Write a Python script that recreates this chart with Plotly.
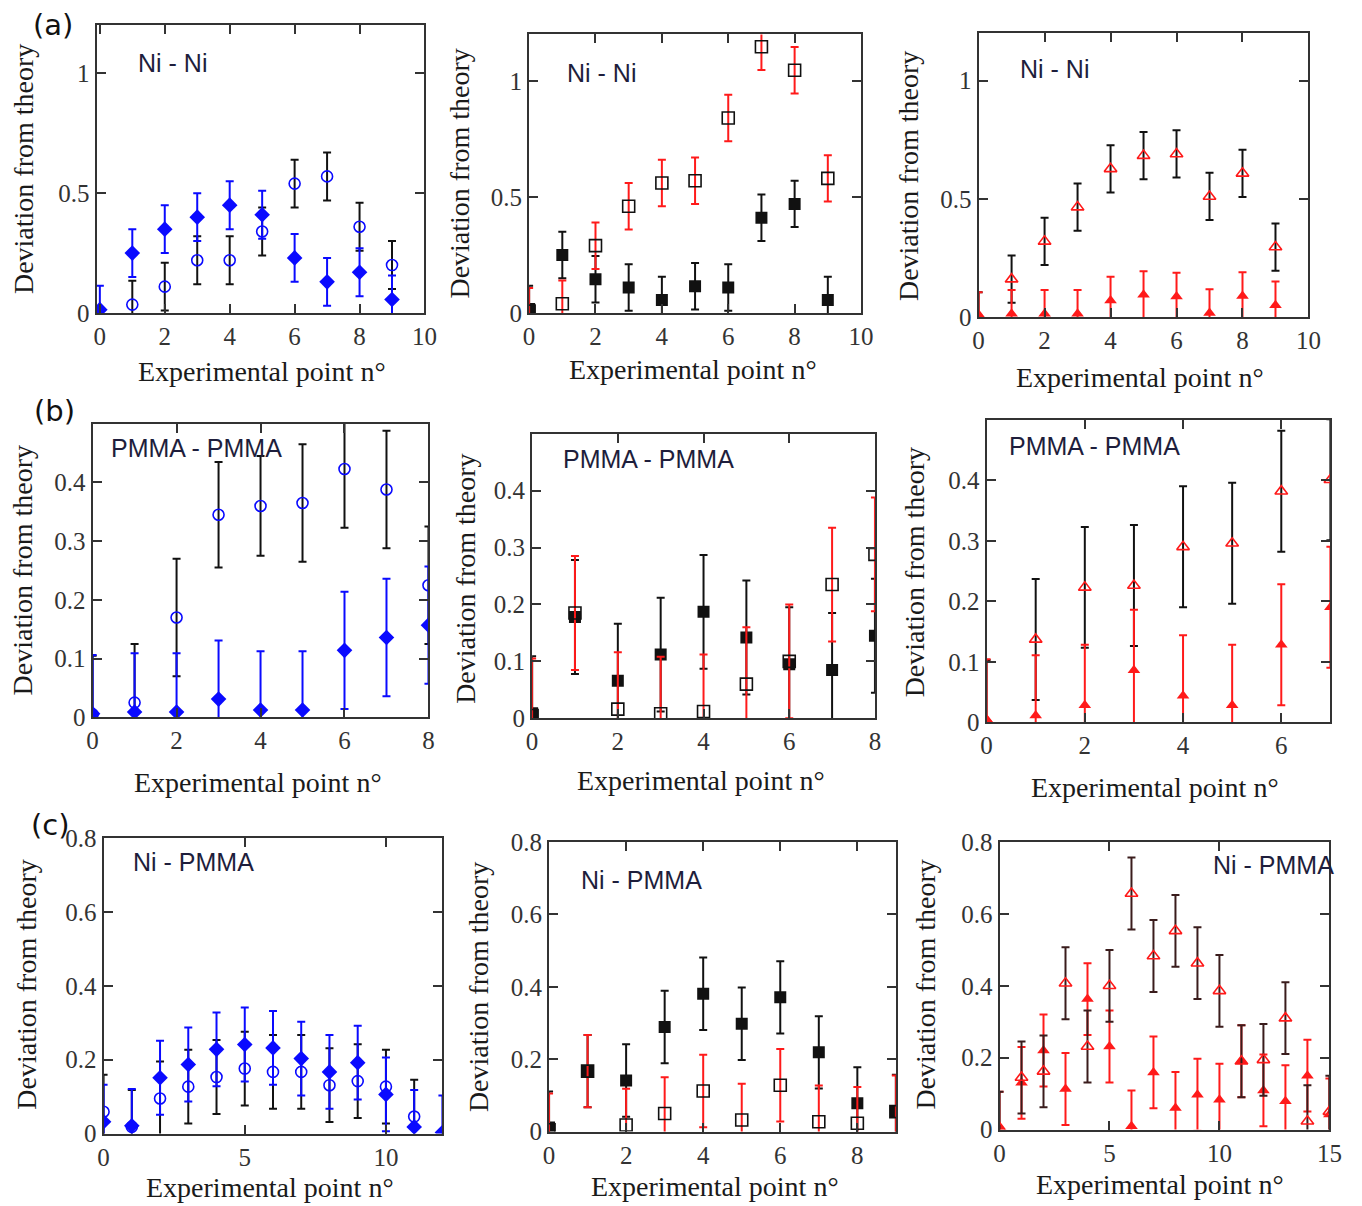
import plotly.graph_objects as go

W, H = 1362, 1206
BLUE = "#0a0aff"
RED = "#ff1a1a"
BLACK = "#111111"
DARK = "#3a1c1c"

# ---------------- data ----------------
# Row (a) Ni - Ni
A1_FILLED_X = [0, 1, 2, 3, 4, 5, 6, 7, 8, 9]
A1_FILLED_Y = [0.014, 0.25, 0.35, 0.40, 0.45, 0.41, 0.23, 0.13, 0.17, 0.056]
A1_FILLED_E = [0.1, 0.1, 0.1, 0.1, 0.1, 0.1, 0.1, 0.1, 0.1, 0.1]
A1_OPEN_X = [1, 2, 3, 4, 5, 6, 7, 8, 9]
A1_OPEN_Y = [0.035, 0.11, 0.22, 0.22, 0.34, 0.54, 0.57, 0.36, 0.20]
A1_OPEN_E = [0.1, 0.1, 0.1, 0.1, 0.1, 0.1, 0.1, 0.1, 0.1]

A2_FILLED_X = [0, 1, 2, 3, 4, 5, 6, 7, 8, 9]
A2_FILLED_Y = [0.017, 0.25, 0.145, 0.11, 0.056, 0.115, 0.11, 0.41, 0.47, 0.056]
A2_FILLED_E = [0.1, 0.1, 0.1, 0.1, 0.1, 0.1, 0.1, 0.1, 0.1, 0.1]
A2_OPEN_X = [0, 1, 2, 3, 4, 5, 6, 7, 8, 9]
A2_OPEN_Y = [0.008, 0.04, 0.29, 0.46, 0.56, 0.57, 0.84, 1.147, 1.046, 0.58]
A2_OPEN_E = [0.1, 0.1, 0.1, 0.1, 0.1, 0.1, 0.1, 0.1, 0.1, 0.1]

A3_FILLED_X = [0, 1, 2, 3, 4, 5, 6, 7, 8, 9]
A3_FILLED_Y = [0.005, 0.014, 0.014, 0.014, 0.07, 0.094, 0.087, 0.017, 0.089, 0.05]
A3_FILLED_E = [0.1, 0.1, 0.1, 0.1, 0.1, 0.1, 0.1, 0.1, 0.1, 0.1]
A3_OPEN_X = [0, 1, 2, 3, 4, 5, 6, 7, 8, 9]
A3_OPEN_Y = [0.005, 0.16, 0.32, 0.465, 0.627, 0.683, 0.69, 0.51, 0.608, 0.296]
A3_OPEN_E = [0.1, 0.1, 0.1, 0.1, 0.1, 0.1, 0.1, 0.1, 0.1, 0.1]

# Row (b) PMMA - PMMA
B1_FILLED_X = [0, 1, 2, 3, 4, 5, 6, 7, 8]
B1_FILLED_Y = [0.006, 0.009, 0.009, 0.031, 0.0125, 0.0125, 0.114, 0.136, 0.157]
B1_FILLED_E = [0.1, 0.1, 0.1, 0.1, 0.1, 0.1, 0.1, 0.1, 0.1]
B1_OPEN_X = [0, 1, 2, 3, 4, 5, 6, 7, 8]
B1_OPEN_Y = [0.005, 0.025, 0.17, 0.345, 0.36, 0.365, 0.423, 0.388, 0.225]
B1_OPEN_E = [0.1, 0.1, 0.1, 0.09, 0.085, 0.1, 0.1, 0.1, 0.1]

B2_FILLED_X = [0, 1, 2, 3, 4, 5, 6, 7, 8]
B2_FILLED_Y = [0.009, 0.178, 0.066, 0.112, 0.187, 0.142, 0.095, 0.085, 0.145]
B2_FILLED_E = [0.1, 0.1, 0.1, 0.1, 0.1, 0.1, 0.1, 0.1, 0.1]
B2_OPEN_X = [0, 1, 2, 3, 4, 5, 6, 7, 8]
B2_OPEN_Y = [0.005, 0.185, 0.016, 0.008, 0.012, 0.06, 0.1, 0.235, 0.288]
B2_OPEN_E = [0.1, 0.1, 0.1, 0.1, 0.1, 0.1, 0.1, 0.1, 0.1]

B3_FILLED_X = [0, 1, 2, 3, 4, 5, 6, 7]
B3_FILLED_Y = [0.004, 0.011, 0.028, 0.086, 0.044, 0.028, 0.128, 0.19]
B3_FILLED_E = [0.1, 0.1, 0.1, 0.1, 0.1, 0.1, 0.1, 0.1]
B3_OPEN_X = [0, 1, 2, 3, 4, 5, 6, 7]
B3_OPEN_Y = [0.003, 0.137, 0.223, 0.226, 0.29, 0.296, 0.382, 0.401]
B3_OPEN_E = [0.1, 0.1, 0.1, 0.1, 0.1, 0.1, 0.1, 0.1]

# Row (c) Ni - PMMA
C1_FILLED_X = [0, 1, 2, 3, 4, 5, 6, 7, 8, 9, 10, 11, 12]
C1_FILLED_Y = [0.032, 0.021, 0.151, 0.187, 0.228, 0.241, 0.232, 0.203, 0.167, 0.192, 0.106, 0.018, 0.003]
C1_FILLED_E = [0.1, 0.1, 0.1, 0.1, 0.1, 0.1, 0.1, 0.1, 0.1, 0.1, 0.1, 0.1, 0.1]
C1_OPEN_X = [0, 1, 2, 3, 4, 5, 6, 7, 8, 9, 10, 11]
C1_OPEN_Y = [0.059, 0.018, 0.095, 0.127, 0.153, 0.176, 0.167, 0.167, 0.131, 0.142, 0.127, 0.046]
C1_OPEN_E = [0.1, 0.1, 0.1, 0.1, 0.1, 0.1, 0.1, 0.1, 0.1, 0.1, 0.1, 0.1]

C2_FILLED_X = [0, 1, 2, 3, 4, 5, 6, 7, 8, 9]
C2_FILLED_Y = [0.011, 0.167, 0.141, 0.289, 0.381, 0.298, 0.371, 0.219, 0.078, 0.057]
C2_FILLED_E = [0.1, 0.1, 0.1, 0.1, 0.1, 0.1, 0.1, 0.1, 0.1, 0.1]
C2_OPEN_X = [0, 1, 2, 3, 4, 5, 6, 7, 8, 9]
C2_OPEN_Y = [0.005, 0.167, 0.018, 0.05, 0.112, 0.032, 0.128, 0.027, 0.023, 0.055]
C2_OPEN_E = [0.1, 0.1, 0.1, 0.1, 0.1, 0.1, 0.1, 0.1, 0.1, 0.1]

C3_FILLED_X = [0, 1, 2, 3, 4, 5, 6, 7, 8, 9, 10, 11, 12, 13, 14, 15]
C3_FILLED_Y = [0.005, 0.13, 0.22, 0.113, 0.363, 0.231, 0.009, 0.159, 0.06, 0.097, 0.083, 0.19, 0.109, 0.079, 0.15, 0.042]
C3_FILLED_E = [0.1, 0.1, 0.1, 0.1, 0.1, 0.1, 0.1, 0.1, 0.1, 0.1, 0.1, 0.1, 0.1, 0.1, 0.1, 0.1]
C3_OPEN_X = [0, 1, 2, 3, 4, 5, 6, 7, 8, 9, 10, 11, 12, 13, 14, 15]
C3_OPEN_Y = [0.005, 0.145, 0.162, 0.407, 0.231, 0.4, 0.657, 0.483, 0.553, 0.463, 0.386, 0.19, 0.194, 0.31, 0.023, 0.05]
C3_OPEN_E = [0.1, 0.1, 0.1, 0.1, 0.1, 0.1, 0.1, 0.1, 0.1, 0.1, 0.1, 0.1, 0.1, 0.1, 0.1, 0.1]

PANEL_TEXT = ["Ni - Ni", "Ni - Ni", "Ni - Ni",
              "PMMA - PMMA", "PMMA - PMMA", "PMMA - PMMA",
              "Ni - PMMA", "Ni - PMMA", "Ni - PMMA"]
ROW_LABELS = ["(a)", "(b)", "(c)"]
X_TITLE = "Experimental point n°"
Y_TITLE = "Deviation from theory"

# ---------------- placement ----------------
# positions below are target pixel positions in the final picture; the
# viewer shows the page slightly reduced, so map them back to figure pixels
SX, AX = 0.9894, 5.1
SY, AY = 0.9793, 11.5


def fx(px):
    return (px - AX) / SX


def fy(py):
    return (py - AY) / SY


# box = (left, right, top, bottom) in pixels
panels = [
    dict(box=(96, 425, 24, 312), xr=[-0.1, 10], yr=[0, 1.2], xd=2, yt=[0, 0.5, 1],
         txt=(172, 62), xt=(262, 371), ytp=(22, 168),
         series=[(A1_OPEN_X, A1_OPEN_Y, A1_OPEN_E, "circle-open", BLUE, BLACK),
                 (A1_FILLED_X, A1_FILLED_Y, A1_FILLED_E, "diamond", BLUE, BLUE)]),
    dict(box=(530, 863, 33, 312), xr=[0, 10], yr=[0, 1.2], xd=2, yt=[0, 0.5, 1],
         txt=(603, 72), xt=(694, 369), ytp=(460, 172),
         series=[(A2_FILLED_X, A2_FILLED_Y, A2_FILLED_E, "square", BLACK, BLACK),
                 (A2_OPEN_X, A2_OPEN_Y, A2_OPEN_E, "square-open", BLACK, RED)]),
    dict(box=(981, 1312, 32, 316), xr=[0, 10], yr=[0, 1.2], xd=2, yt=[0, 0.5, 1],
         txt=(1057, 68), xt=(1143, 377), ytp=(910, 175),
         series=[(A3_OPEN_X, A3_OPEN_Y, A3_OPEN_E, "triangle-up-open", RED, BLACK),
                 (A3_FILLED_X, A3_FILLED_Y, A3_FILLED_E, "triangle-up", RED, RED)]),
    dict(box=(92, 429, 423, 717), xr=[0, 8], yr=[0, 0.5], xd=2, yt=[0, 0.1, 0.2, 0.3, 0.4],
         txt=(196, 447), xt=(258, 782), ytp=(22, 570),
         series=[(B1_OPEN_X, B1_OPEN_Y, B1_OPEN_E, "circle-open", BLUE, BLACK),
                 (B1_FILLED_X, B1_FILLED_Y, B1_FILLED_E, "diamond", BLUE, BLUE)]),
    dict(box=(533, 877, 433, 718), xr=[0, 8], yr=[0, 0.5], xd=2, yt=[0, 0.1, 0.2, 0.3, 0.4],
         txt=(650, 458), xt=(702, 780), ytp=(466, 578),
         series=[(B2_FILLED_X, B2_FILLED_Y, B2_FILLED_E, "square", BLACK, BLACK),
                 (B2_OPEN_X, B2_OPEN_Y, B2_OPEN_E, "square-open", BLACK, RED)]),
    dict(box=(989, 1334, 419, 722), xr=[0, 7], yr=[0, 0.5], xd=2, yt=[0, 0.1, 0.2, 0.3, 0.4],
         txt=(1097, 445), xt=(1158, 787), ytp=(917, 572),
         series=[(B3_OPEN_X, B3_OPEN_Y, B3_OPEN_E, "triangle-up-open", RED, BLACK),
                 (B3_FILLED_X, B3_FILLED_Y, B3_FILLED_E, "triangle-up", RED, RED)]),
    dict(box=(103, 443, 838, 1134), xr=[0, 12], yr=[0, 0.8], xd=5, yt=[0, 0.2, 0.4, 0.6, 0.8],
         txt=(193, 862), xt=(270, 1188), ytp=(26, 985),
         series=[(C1_OPEN_X, C1_OPEN_Y, C1_OPEN_E, "circle-open", BLUE, BLACK),
                 (C1_FILLED_X, C1_FILLED_Y, C1_FILLED_E, "diamond", BLUE, BLUE)]),
    dict(box=(550, 898, 842, 1132), xr=[0, 9], yr=[0, 0.8], xd=2, yt=[0, 0.2, 0.4, 0.6, 0.8],
         txt=(643, 880), xt=(717, 1187), ytp=(480, 987),
         series=[(C2_FILLED_X, C2_FILLED_Y, C2_FILLED_E, "square", BLACK, BLACK),
                 (C2_OPEN_X, C2_OPEN_Y, C2_OPEN_E, "square-open", BLACK, RED)]),
    dict(box=(1002, 1333, 842, 1130), xr=[0, 15], yr=[0, 0.8], xd=5, yt=[0, 0.2, 0.4, 0.6, 0.8],
         txt=(1277, 865), xt=(1163, 1185), ytp=(928, 985),
         series=[(C3_FILLED_X, C3_FILLED_Y, C3_FILLED_E, "triangle-up", RED, RED),
                 (C3_OPEN_X, C3_OPEN_Y, C3_OPEN_E, "triangle-up-open", RED, DARK)]),
]

fig = go.Figure()
annotations = []
layout = {}
SERIF = "Liberation Serif"
SANS = "Liberation Sans"
AXC = "#333333"

for i, p in enumerate(panels, start=1):
    l, r, t, b = p["box"]
    xa = "xaxis" if i == 1 else f"xaxis{i}"
    ya = "yaxis" if i == 1 else f"yaxis{i}"
    xref = "x" if i == 1 else f"x{i}"
    yref = "y" if i == 1 else f"y{i}"
    common = dict(showline=True, linecolor=AXC, linewidth=2, mirror="ticks",
                  ticks="inside", ticklen=9, tickwidth=2, tickcolor=AXC,
                  showgrid=False, zeroline=False,
                  tickfont=dict(family=SERIF, size=25, color="#333333"))
    layout[xa] = dict(domain=[fx(l) / W, fx(r) / W], range=p["xr"], anchor=yref,
                      tick0=0, dtick=p["xd"], **common)
    layout[ya] = dict(domain=[1 - fy(b) / H, 1 - fy(t) / H], range=p["yr"], anchor=xref,
                      tickvals=p["yt"], **common)
    for (xs, ys, es, sym, mcol, bcol) in p["series"]:
        is_open = sym.endswith("open")
        if sym.startswith("diamond"):
            size = 12
        elif sym.startswith("square"):
            size = 12
        elif sym.startswith("circle"):
            size = 11
        else:
            size = 11
        fig.add_trace(go.Scatter(
            x=xs, y=ys, mode="markers", xaxis=xref, yaxis=yref,
            showlegend=False,
            marker=dict(symbol=sym, size=size, color=mcol,
                        line=dict(width=1.6 if is_open else 0, color=mcol)),
            error_y=dict(type="data", array=es, visible=True, color=bcol,
                         thickness=2, width=4),
        ))
    annotations.append(dict(text=PANEL_TEXT[i - 1], x=fx(p["txt"][0]) / W,
                            y=1 - fy(p["txt"][1]) / H,
                            xref="paper", yref="paper", showarrow=False,
                            xanchor="center", yanchor="middle",
                            font=dict(family=SANS, size=25, color="#1e1e3c")))
    annotations.append(dict(text=X_TITLE, x=fx(p["xt"][0]) / W, y=1 - fy(p["xt"][1]) / H,
                            xref="paper", yref="paper", showarrow=False,
                            xanchor="center", yanchor="middle",
                            font=dict(family=SERIF, size=28, color="#1a1a1a")))
    annotations.append(dict(text=Y_TITLE, x=fx(p["ytp"][0]) / W, y=1 - fy(p["ytp"][1]) / H,
                            xref="paper", yref="paper", showarrow=False, textangle=-90,
                            xanchor="center", yanchor="middle",
                            font=dict(family=SERIF, size=28, color="#1a1a1a")))

for lab, (cx, cy) in zip(ROW_LABELS, [(52, 24), (54, 410), (50, 825)]):
    annotations.append(dict(text=lab, x=fx(cx) / W, y=1 - fy(cy) / H,
                            xref="paper", yref="paper",
                            showarrow=False, xanchor="center", yanchor="middle",
                            font=dict(family="DejaVu Sans", size=29, color="#111111")))

fig.update_layout(
    width=W, height=H, margin=dict(l=0, r=0, t=0, b=0),
    paper_bgcolor="white", plot_bgcolor="white",
    annotations=annotations, **layout,
)

fig.write_html("out.html")
